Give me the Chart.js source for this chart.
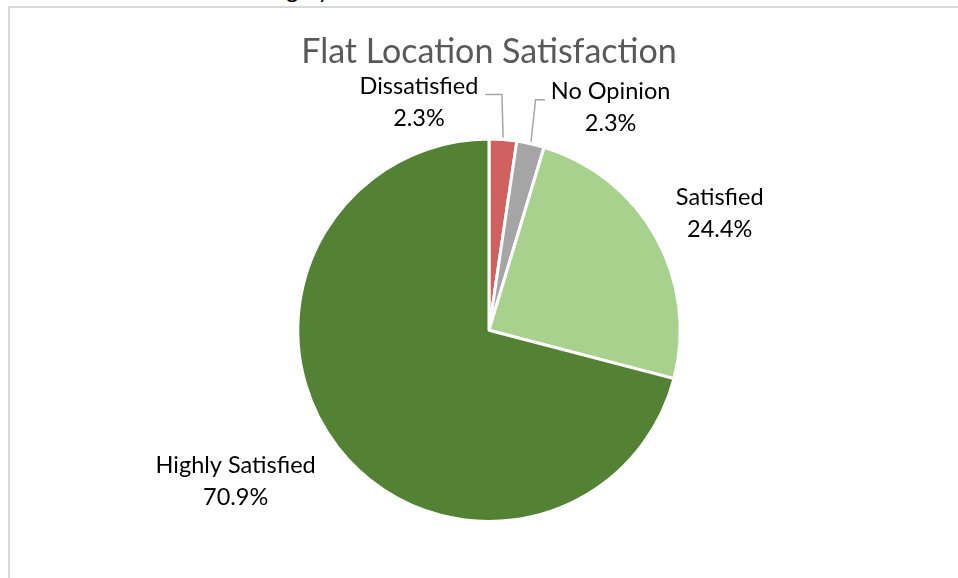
<!DOCTYPE html>
<html>
<head>
<meta charset="utf-8">
<script src="https://cdn.jsdelivr.net/npm/chart.js@4.4.0/dist/chart.umd.min.js"></script>
<style>
  html, body { margin: 0; padding: 0; background: #fff; overflow: hidden; }
  #frame { position: absolute; left: 8px; top: 6px; width: 960px; height: 600px;
           border-top: 2px solid #d9d9d9; border-left: 2px solid #d9d9d9; }
  #cut { position: absolute; left: 262px; top: -26px; font: 24px Lato, sans-serif; color: #000; }
  #wrap { position: absolute; left: 0; top: 0; width: 958px; height: 578px; }
</style>
</head>
<body>
<div id="cut">Highly</div>
<div id="frame"></div>
<div id="wrap"><canvas id="pieChart"></canvas></div>
<script>
const categories = ["Dissatisfied", "No Opinion", "Satisfied", "Highly Satisfied"];
const responses = [2, 2, 21, 61];
const sliceColors = ["#cf615f", "#a5a5a5", "#a9d18e", "#548235"];

// label placement relative to the outer edge of each slice
const labelOffsets = [[-84, -37], [80, -36], [64, -23], [-102, 34]];
const labelLeaders = [{ side: "left", elbow: -1 }, { side: "right", elbow: 5 }, null, null];

document.addEventListener("DOMContentLoaded", () => {
    const canvas = document.getElementById("pieChart");
    const total = responses.reduce((a, b) => a + b, 0);

    // data labels drawn next to each slice, Excel style
    const sliceLabels = {
        id: "sliceLabels",
        afterDatasetsDraw(chart) {
            const ctx = chart.ctx;
            const meta = chart.getDatasetMeta(0);
            const gap = 32;
            ctx.save();
            ctx.font = "23.5px Lato";
            ctx.fillStyle = "#000000";
            ctx.textAlign = "center";
            ctx.textBaseline = "middle";
            meta.data.forEach((arc, i) => {
                const p = arc.getProps(["x", "y", "startAngle", "endAngle", "outerRadius"], true);
                const mid = (p.startAngle + p.endAngle) / 2;
                const ax = p.x + Math.cos(mid) * p.outerRadius;
                const ay = p.y + Math.sin(mid) * p.outerRadius;
                const [dx, dy] = labelOffsets[i];
                const cx = ax + dx, cy = ay + dy;
                const pct = (responses[i] / total * 100).toFixed(1) + "%";
                ctx.fillText(categories[i], cx, cy - gap / 2);
                ctx.fillText(pct, cx, cy + gap / 2);

                const lead = labelLeaders[i];
                if (lead) {
                    const w = Math.max(ctx.measureText(categories[i]).width, ctx.measureText(pct).width);
                    const ey = cy - 8;
                    const ex = ax + lead.elbow;
                    const hx = lead.side === "left" ? cx + w / 2 + 7 : cx - w / 2 - 6;
                    ctx.beginPath();
                    ctx.strokeStyle = "#a6a6a6";
                    ctx.lineWidth = 1.5;
                    ctx.moveTo(ax + Math.cos(mid) * 2, ay + Math.sin(mid) * 2);
                    ctx.lineTo(ex, ey);
                    ctx.lineTo(hx, ey);
                    ctx.stroke();
                }
            });
            ctx.restore();
        }
    };

    new Chart(canvas, {
        type: "pie",
        data: {
            labels: categories,
            datasets: [{
                data: responses,
                backgroundColor: sliceColors,
                borderColor: "#ffffff",
                borderWidth: 3,
            }]
        },
        options: {
            responsive: true,
            maintainAspectRatio: false,
            animation: false,
            layout: { padding: { left: 296, right: 276, top: 0, bottom: 55 } },
            plugins: {
                legend: { display: false },
                tooltip: { enabled: false },
                title: {
                    display: true,
                    text: "Flat Location Satisfaction",
                    color: "#595959",
                    font: { family: "Lato", size: 34, weight: "normal" },
                    padding: { top: 32, bottom: 64.8 }
                }
            }
        },
        plugins: [sliceLabels]
    });
});
</script>
</body>
</html>
